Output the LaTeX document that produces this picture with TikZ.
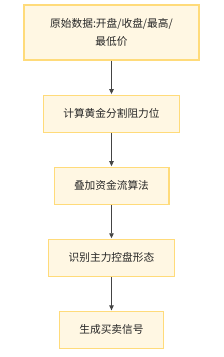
\documentclass[tikz,border=0pt]{standalone}
\usepackage{fontspec}
\newfontfamily\cjk{Noto Sans CJK SC}
\usepackage{tikz}
\usetikzlibrary{arrows.meta, positioning}
\definecolor{boxfill}{HTML}{FFF7E3}
\definecolor{boxline}{HTML}{FFDB7A}
\definecolor{arrowgray}{HTML}{444444}

\begin{document}
\begin{tikzpicture}[
    x=1pt, y=1pt,
    node distance=34pt,
    >=Triangle,
    font=\cjk\fontsize{10.7}{18}\selectfont,
    every node/.style={align=center},
    stage/.style={rectangle, draw=boxline, line width=1.1pt, fill=boxfill, inner xsep=20pt, minimum height=37pt, text=black!85},
    line/.style={->, draw=arrowgray, line width=0.8pt, shorten >=0.5pt, arrows={-Triangle[length=5pt, width=4.5pt]}}
]
\useasboundingbox (0,0) rectangle (224,-357);
\node[stage, minimum width=175pt, minimum height=55pt] (raw) at (111.5,-32.5) {原始数据:开盘/收盘/最高/\\
    最低价};
\node[stage, below=of raw] (golden) {计算黄金分割阻力位};
\node[stage, below=of golden] (flow) {叠加资金流算法};
\node[stage, below=of flow] (pattern) {识别主力控盘形态};
\node[stage, below=of pattern] (signal) {生成买卖信号};
\draw[line] (raw) -- (golden);
\draw[line] (golden) -- (flow);
\draw[line] (flow) -- (pattern);
\draw[line] (pattern) -- (signal);
\end{tikzpicture}
\end{document}
